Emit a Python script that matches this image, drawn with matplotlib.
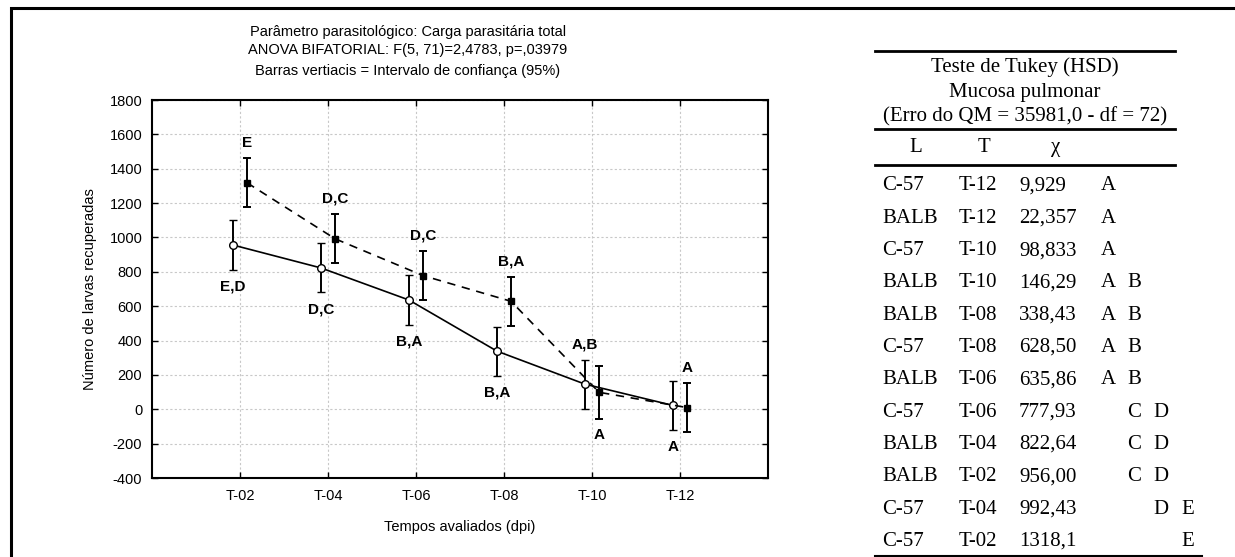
import matplotlib
matplotlib.use("Agg")
import matplotlib.pyplot as plt
from matplotlib.lines import Line2D
import numpy as np

# ---- data ----
times = ["T-02", "T-04", "T-06", "T-08", "T-10", "T-12"]
balb_mean = [956.00, 822.64, 635.86, 338.43, 146.29, 22.357]
c57_mean = [1318.1, 992.43, 777.93, 628.50, 98.833, 9.929]
balb_ci = [143, 143, 143, 143, 143, 143]
c57_ci = [143, 143, 143, 143, 153, 143]
balb_letters = ["E,D", "D,C", "B,A", "B,A", "A,B", "A"]
balb_side = ["below", "below", "below", "below", "above", "below"]
c57_letters = ["E", "D,C", "D,C", "B,A", "A", "A"]
c57_side = ["above", "above", "above", "above", "below", "above"]
y_ticks = list(range(-400, 1801, 200))

title_lines = [
    "Parâmetro parasitológico: Carga parasitária total",
    "ANOVA BIFATORIAL: F(5, 71)=2,4783, p=,03979",
    "Barras vertiacis = Intervalo de confiança (95%)",
]

tukey_lineage = ["C-57", "BALB", "C-57", "BALB", "BALB", "C-57",
                 "BALB", "C-57", "BALB", "BALB", "C-57", "C-57"]
tukey_time = ["T-12", "T-12", "T-10", "T-10", "T-08", "T-08",
              "T-06", "T-06", "T-04", "T-02", "T-04", "T-02"]
tukey_mean = ["9,929", "22,357", "98,833", "146,29", "338,43", "628,50",
              "635,86", "777,93", "822,64", "956,00", "992,43", "1318,1"]
tukey_groups = ["A", "A", "A", "AB", "AB", "AB", "AB", "CD", "CD", "CD", "DE", "E"]

W, H = 1235, 557
fig = plt.figure(figsize=(W / 100, H / 100), dpi=100)
SANS = "Liberation Sans"
SERIF = "Liberation Serif"
FS = 10.5      # chart text
FS_TAB = 15    # table text


def fx(px):
    return px / W


def fy(py):
    return 1 - py / H


def hline(y, x0, x1, lw):
    fig.add_artist(Line2D([fx(x0), fx(x1)], [fy(y), fy(y)], color="black",
                          lw=lw, transform=fig.transFigure))


# outer frame
fig.add_artist(Line2D([fx(11), fx(11), 1.0], [0.0, fy(8), fy(8)], color="black",
                      lw=2.2, transform=fig.transFigure, solid_joinstyle="miter"))

# ---- chart ----
ax = fig.add_axes([fx(152), fy(478), fx(768) - fx(152), fy(100) - fy(478)])
x = np.arange(1, len(times) + 1)
off = 0.08

ax.errorbar(x - off, balb_mean, yerr=balb_ci, color="black", lw=1.2,
            marker="o", ms=5.5, mfc="white", mec="black", mew=1.0,
            ecolor="black", elinewidth=1.4, capsize=2.8, capthick=1.4, zorder=3)
ax.errorbar(x + off, c57_mean, yerr=c57_ci, color="black", lw=1.2,
            ls=(0, (5, 4)), marker="s", ms=5, mfc="black", mec="black",
            ecolor="black", elinewidth=1.4, capsize=2.8, capthick=1.4, zorder=3)


def put_letters(xs, means, cis, letters, sides):
    for xi, m, c, t, s in zip(xs, means, cis, letters, sides):
        if s == "above":
            y, dy = m + c, 11
        else:
            y, dy = m - c, -12
        ax.annotate(t, (xi, y), xytext=(0, dy), textcoords="offset points",
                    ha="center", va="center", fontsize=11, fontweight="bold",
                    family=SANS)


put_letters(x - off, balb_mean, balb_ci, balb_letters, balb_side)
put_letters(x + off, c57_mean, c57_ci, c57_letters, c57_side)

ax.set_xlim(0, len(times) + 1)
ax.set_ylim(-400, 1800)
ax.set_xticks(x)
ax.set_xticklabels(times)
ax.set_yticks(y_ticks)
ax.set_yticklabels([str(v) for v in y_ticks])
ax.grid(True, color="#c8c8c8", ls=(0, (2, 2)), lw=0.8)
ax.set_axisbelow(True)
ax.tick_params(direction="in", length=4, width=1, top=True, right=True,
               labelsize=FS, colors="black")
ax.tick_params(axis="x", pad=8)
ax.tick_params(axis="y", pad=7)
for lab in ax.get_xticklabels() + ax.get_yticklabels():
    lab.set_family(SANS)
for sp in ax.spines.values():
    sp.set_linewidth(1.5)

ax.set_xlabel("Tempos avaliados (dpi)", fontsize=FS, family=SANS)
ax.xaxis.set_label_coords(0.5, (478 - 520) / 378)
ax.set_ylabel("Número de larvas recuperadas", fontsize=FS, family=SANS)
ax.yaxis.set_label_coords((97 - 152) / 616, 0.5)

for ty, line in zip([32, 50, 71], title_lines):
    fig.text(fx(408), fy(ty), line, ha="center", va="center", fontsize=FS,
             family=SANS)

# ---- Tukey table ----
tx0, tx1 = 875, 1175
hline(51, tx0, tx1, 2.0)
for ty, line in zip([67, 92, 117], ["Teste de Tukey (HSD)", "Mucosa pulmonar",
                                    "(Erro do QM = 35981,0 - df = 72)"]):
    fig.text(fx((tx0 + tx1) / 2), fy(ty), line, ha="center", va="center",
             fontsize=FS_TAB, family=SERIF)
hline(129, tx0, tx1, 2.0)
for hx, h in zip([916, 984, 1056], ["L", "T", "χ"]):
    fig.text(fx(hx), fy(148), h, ha="center", va="center", fontsize=FS_TAB,
             family=SERIF)
hline(165, tx0, tx1, 2.0)

group_x = {"A": 1108, "B": 1134, "C": 1134, "D": 1161, "E": 1188}
for i, (lin, tm, mv, grp) in enumerate(zip(tukey_lineage, tukey_time,
                                          tukey_mean, tukey_groups)):
    ry = 186 + i * 32.3
    fig.text(fx(882), fy(ry), lin, ha="left", va="center", fontsize=FS_TAB, family=SERIF)
    fig.text(fx(959), fy(ry), tm, ha="left", va="center", fontsize=FS_TAB, family=SERIF)
    fig.text(fx(1019), fy(ry), mv, ha="left", va="center", fontsize=FS_TAB, family=SERIF)
    for g in grp:
        fig.text(fx(group_x[g]), fy(ry), g, ha="center", va="center",
                 fontsize=FS_TAB, family=SERIF)
hline(555.5, tx0, 1202, 1.5)

fig.savefig("out.png", dpi=100)
